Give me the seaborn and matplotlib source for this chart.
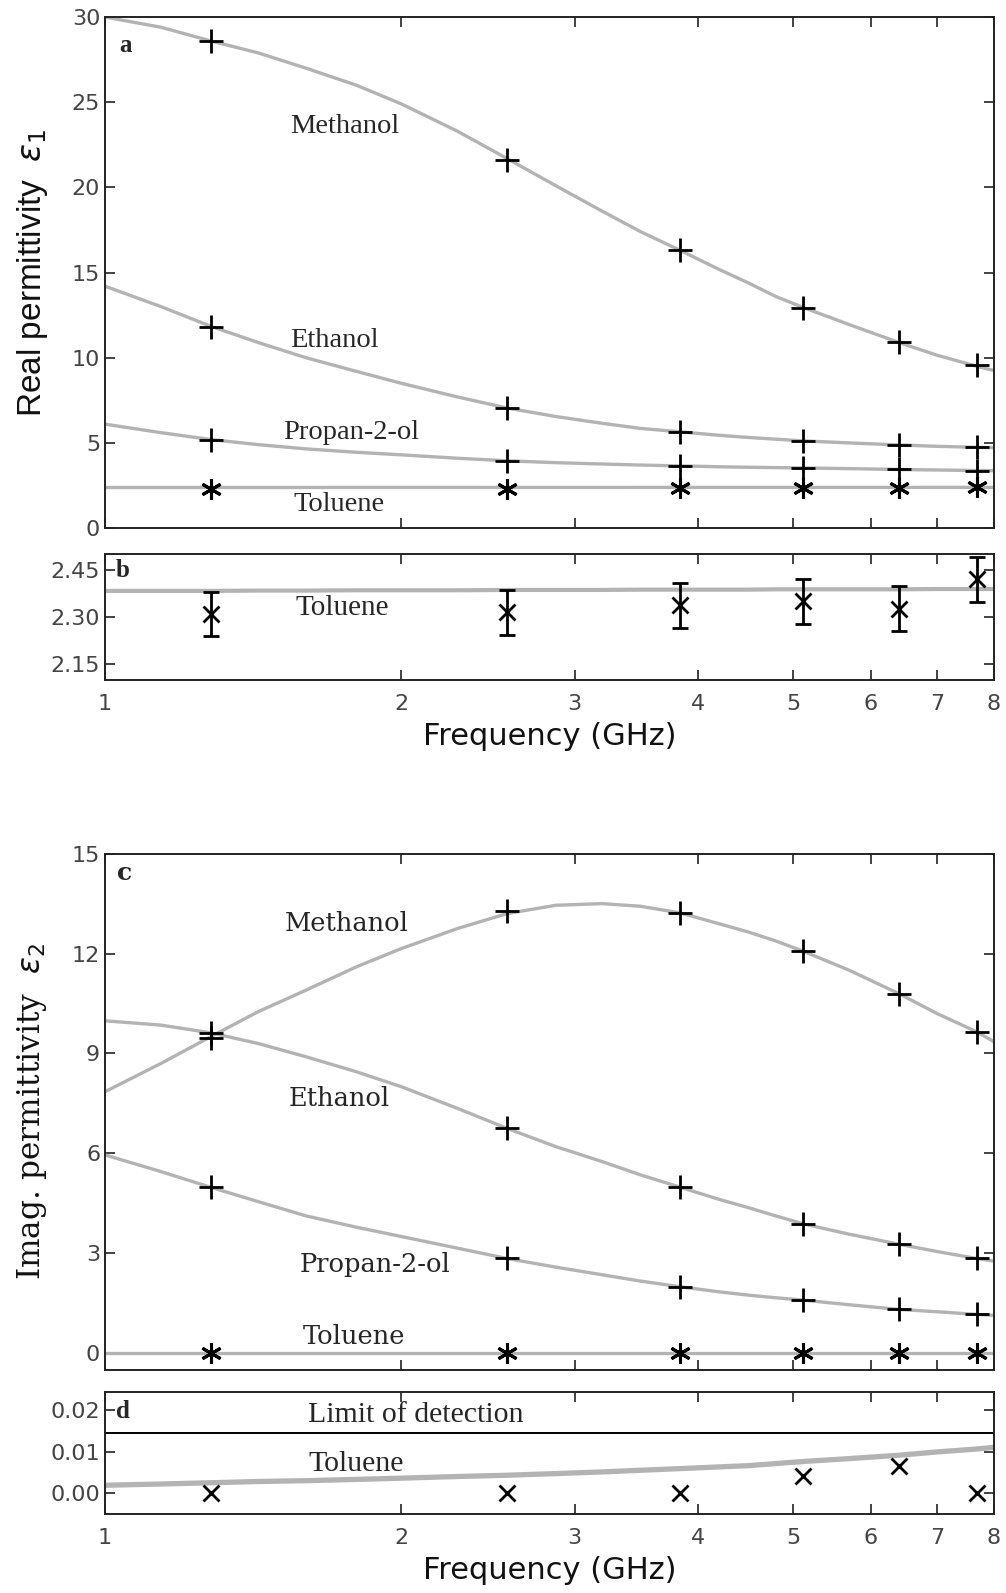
import numpy as np
import pandas as pd
import matplotlib
matplotlib.use("Agg")
import matplotlib.pyplot as plt
import seaborn as sns

# ---------------- data ----------------
freq_meas = [1.28, 2.56, 3.84, 5.12, 6.40, 7.68]          # GHz
freq_fit = [1.0, 1.14, 1.28, 1.43, 1.6, 1.8, 2.0, 2.28, 2.56, 2.87, 3.2,
            3.5, 3.84, 4.2, 4.5, 4.8, 5.12, 5.7, 6.4, 7.0, 7.68, 8.0]

# real permittivity (panel a)
real_methanol = [28.6, 21.6, 16.3, 12.9, 10.9, 9.6]
real_ethanol = [11.8, 7.05, 5.65, 5.12, 4.88, 4.74]
real_propanol = [5.2, 3.94, 3.65, 3.53, 3.44, 3.38]
real_toluene = [2.31, 2.315, 2.337, 2.35, 2.327, 2.42]
real_toluene_err = [0.071, 0.071, 0.072, 0.072, 0.072, 0.072]

fit_real_methanol = [30.0, 29.4, 28.6, 27.9, 27.0, 26.0, 24.9, 23.3, 21.7, 20.1, 18.6,
                     17.4, 16.3, 15.2, 14.4, 13.6, 12.95, 11.95, 10.9, 10.15, 9.5, 9.25]
fit_real_ethanol = [14.2, 13.0, 11.85, 10.9, 10.0, 9.2, 8.5, 7.7, 7.05, 6.55, 6.15,
                    5.85, 5.65, 5.45, 5.32, 5.22, 5.12, 5.0, 4.88, 4.8, 4.74, 4.72]
fit_real_propanol = [6.1, 5.6, 5.2, 4.9, 4.65, 4.45, 4.3, 4.1, 3.95, 3.84, 3.76,
                     3.7, 3.65, 3.6, 3.57, 3.55, 3.53, 3.49, 3.44, 3.41, 3.38, 3.37]
fit_real_toluene = [2.383, 2.383, 2.383, 2.384, 2.384, 2.385, 2.385, 2.385, 2.386, 2.386, 2.386,
                    2.387, 2.387, 2.387, 2.387, 2.388, 2.388, 2.388, 2.388, 2.389, 2.389, 2.389]

# imaginary permittivity (panel c)
imag_methanol = [9.47, 13.27, 13.22, 12.07, 10.78, 9.65]
imag_ethanol = [9.62, 6.75, 4.98, 3.88, 3.27, 2.84]
imag_propanol = [4.98, 2.84, 1.99, 1.59, 1.31, 1.16]
imag_toluene = [0.0, 0.0, 0.0, 0.0, 0.0, 0.0]
imag_toluene_zoom = [0.0, 0.0, 0.0, 0.0042, 0.0066, 0.0]

fit_imag_methanol = [7.85, 8.7, 9.5, 10.25, 10.9, 11.6, 12.15, 12.75, 13.2, 13.45, 13.5,
                     13.42, 13.22, 12.9, 12.65, 12.38, 12.07, 11.5, 10.8, 10.2, 9.65, 9.35]
fit_imag_ethanol = [9.98, 9.85, 9.62, 9.3, 8.9, 8.45, 8.0, 7.35, 6.75, 6.2, 5.75,
                    5.35, 4.98, 4.62, 4.37, 4.12, 3.88, 3.57, 3.27, 3.05, 2.84, 2.76]
fit_imag_propanol = [5.95, 5.45, 4.98, 4.55, 4.12, 3.78, 3.5, 3.15, 2.84, 2.58, 2.35,
                     2.16, 1.99, 1.84, 1.74, 1.66, 1.59, 1.45, 1.31, 1.24, 1.16, 1.13]
fit_imag_toluene = [0.0] * 22
fit_imag_toluene_zoom = [0.0019, 0.0022, 0.0025, 0.0028, 0.0030, 0.0033, 0.0036, 0.0040, 0.0043,
                         0.0047, 0.0051, 0.0055, 0.0059, 0.0063, 0.0066, 0.0071, 0.0076, 0.0083,
                         0.0091, 0.0099, 0.0106, 0.0110]
limit_of_detection = 0.0144

xtick_vals = [1, 2, 3, 4, 5, 6, 7, 8]
xtick_labels = ["1", "2", "3", "4", "5", "6", "7", "8"]

# ---------------- style ----------------
sns.set_theme(style="ticks")
plt.rcParams["font.family"] = ["Liberation Sans Narrow", "DejaVu Sans"]
plt.rcParams["axes.edgecolor"] = "#222222"
plt.rcParams["axes.linewidth"] = 1.4

FIT_COLOR = "#b3b3b3"
SERIF = ["Liberation Serif", "DejaVu Serif"]
WSERIF = ["DejaVu Serif"]

fig = plt.figure(figsize=(10.06, 15.93), dpi=100)
ax_a = fig.add_axes([0.1044, 0.6685, 0.8837, 0.3208])
ax_b = fig.add_axes([0.1044, 0.5731, 0.8837, 0.0791])
ax_c = fig.add_axes([0.1044, 0.1402, 0.8837, 0.3239])
ax_d = fig.add_axes([0.1044, 0.0496, 0.8837, 0.0766])


def fit_line(ax, yvals, lw=2.4):
    df = pd.DataFrame({"f": freq_fit, "v": yvals})
    sns.lineplot(data=df, x="f", y="v", ax=ax, color=FIT_COLOR, lw=lw,
                 estimator=None, sort=False, legend=False)


def markers(ax, yvals, marker="+", ms=17, mew=2.0):
    ax.plot(freq_meas, yvals, linestyle="none", marker=marker, color="black",
            ms=ms, mew=mew, zorder=5)


def style_axis(ax, show_xlabels):
    ax.set_xscale("log")
    ax.set_xlim(1, 8)
    ax.set_xticks(xtick_vals)
    ax.minorticks_off()
    ax.tick_params(axis="both", which="both", direction="in", top=True, right=True,
                   length=7, width=1.2, colors="#222222", labelsize=16,
                   labelcolor="#444444")
    ax.tick_params(axis="x", pad=10)
    if show_xlabels:
        ax.set_xticklabels(xtick_labels)
    else:
        ax.set_xticklabels([])
    ax.set_xlabel("")
    ax.set_ylabel("")
    for s in ax.spines.values():
        s.set_visible(True)


# ---- panel a ----
for fv in [fit_real_methanol, fit_real_ethanol, fit_real_propanol, fit_real_toluene]:
    fit_line(ax_a, fv)
markers(ax_a, real_methanol)
markers(ax_a, real_ethanol)
markers(ax_a, real_propanol)
markers(ax_a, real_toluene, marker=(6, 2, 0), ms=15, mew=2.2)
style_axis(ax_a, False)
ax_a.set_ylim(0, 30)
ax_a.set_yticks([0, 5, 10, 15, 20, 25, 30])
ax_a.set_ylabel("Real permittivity  $\\varepsilon_1$", fontsize=24,
                family=["Liberation Sans", "DejaVu Sans"], color="#111111")
ax_a.yaxis.set_label_coords(-0.062, 0.5)
ax_a.text(0.016, 0.944, "a", transform=ax_a.transAxes, fontsize=18, family=SERIF, fontweight="bold", va="center")
for txt, x, y in [("Methanol", 1.75, 23.6), ("Ethanol", 1.71, 11.0), ("Propan-2-ol", 1.78, 5.6), ("Toluene", 1.73, 1.4)]:
    ax_a.text(x, y, txt, fontsize=20.5, family=SERIF, ha="center", va="center")

# ---- panel b ----
fit_line(ax_b, fit_real_toluene, lw=3.0)
ax_b.errorbar(freq_meas, real_toluene, yerr=real_toluene_err, fmt="x", color="black",
              ms=12, mew=2.0, elinewidth=2.0, capsize=6, capthick=2.0, zorder=5)
style_axis(ax_b, True)
ax_b.set_ylim(2.1, 2.5)
ax_b.set_yticks([2.15, 2.30, 2.45])
ax_b.set_yticklabels(["2.15", "2.30", "2.45"])
ax_b.set_xlabel("Frequency (GHz)", fontsize=22, labelpad=6, color="#111111")
ax_b.text(0.012, 0.87, "b", transform=ax_b.transAxes, fontsize=18, family=SERIF, fontweight="bold", va="center")
ax_b.text(1.74, 2.33, "Toluene", fontsize=21, family=SERIF, ha="center", va="center")

# ---- panel c ----
for fv in [fit_imag_methanol, fit_imag_ethanol, fit_imag_propanol, fit_imag_toluene]:
    fit_line(ax_c, fv)
markers(ax_c, imag_methanol)
markers(ax_c, imag_ethanol)
markers(ax_c, imag_propanol)
markers(ax_c, imag_toluene, marker=(6, 2, 0), ms=15, mew=2.2)
style_axis(ax_c, False)
ax_c.set_ylim(-0.5, 15)
ax_c.set_yticks([0, 3, 6, 9, 12, 15])
ax_c.set_ylabel("Imag. permittivity  $\\varepsilon_2$", fontsize=22.5, family=WSERIF, color="#111111")
ax_c.yaxis.set_label_coords(-0.063, 0.5)
ax_c.text(0.014, 0.962, "c", transform=ax_c.transAxes, fontsize=18, family=WSERIF, fontweight="bold", va="center")
for txt, x, y in [("Methanol", 1.76, 12.9), ("Ethanol", 1.73, 7.65), ("Propan-2-ol", 1.88, 2.65), ("Toluene", 1.79, 0.5)]:
    ax_c.text(x, y, txt, fontsize=18.5, family=WSERIF, ha="center", va="center")

# ---- panel d ----
fit_line(ax_d, fit_imag_toluene_zoom, lw=3.8)
ax_d.axhline(limit_of_detection, color="black", lw=1.4)
ax_d.plot(freq_meas, imag_toluene_zoom, linestyle="none", marker="x", color="black", ms=11, mew=2.0, zorder=5)
style_axis(ax_d, True)
ax_d.set_ylim(-0.005, 0.0243)
ax_d.set_yticks([0.0, 0.01, 0.02])
ax_d.set_yticklabels(["0.00", "0.01", "0.02"])
ax_d.set_xlabel("Frequency (GHz)", fontsize=22, labelpad=6, color="#111111")
ax_d.text(0.012, 0.84, "d", transform=ax_d.transAxes, fontsize=18, family=SERIF, fontweight="bold", va="center")
ax_d.text(2.07, 0.0187, "Limit of detection", fontsize=21.5, family=SERIF, ha="center", va="center")
ax_d.text(1.80, 0.0069, "Toluene", fontsize=21.5, family=SERIF, ha="center", va="center")

fig.savefig("out.png", dpi=100, facecolor="white")
